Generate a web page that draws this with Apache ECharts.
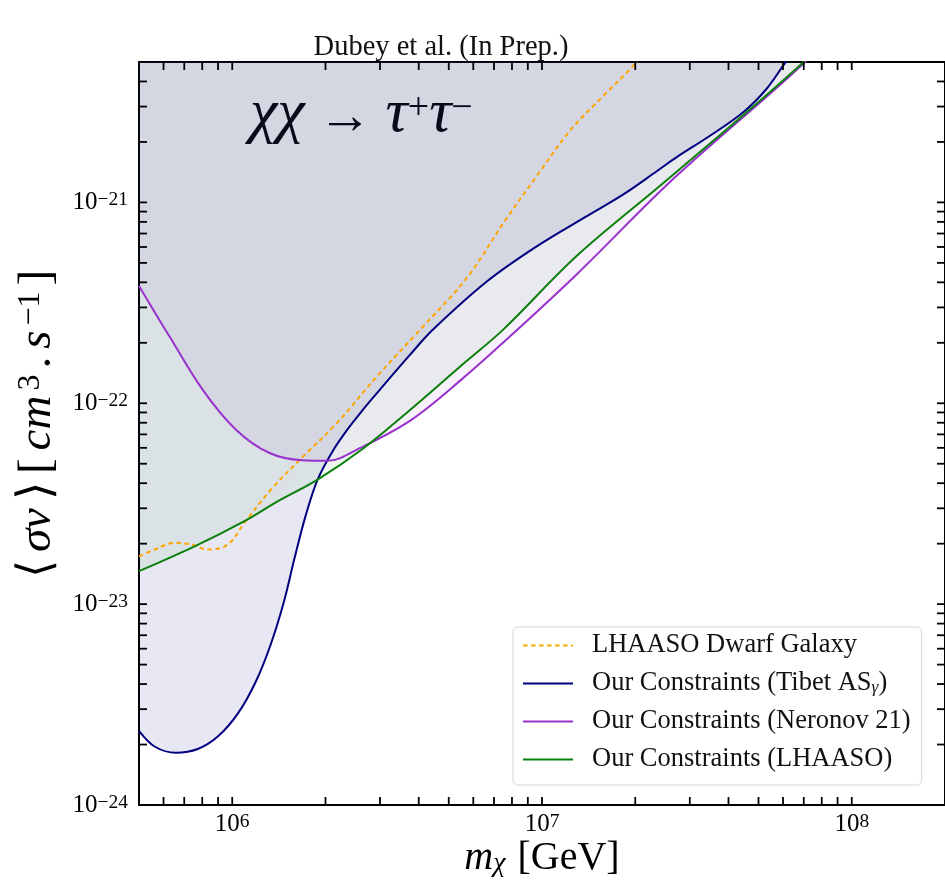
<!DOCTYPE html>
<html>
<head>
<meta charset="utf-8">
<script src="https://cdn.jsdelivr.net/npm/echarts@6/dist/echarts.min.js"></script>
<style>
  html, body { margin: 0; padding: 0; background: #ffffff; }
  #chart { width: 945px; height: 890px; }
</style>
</head>
<body>
<div id="chart"></div>
<script>
// Upper limits on the annihilation cross-section <σv> for χχ → τ+τ−,
// as a function of the dark-matter mass m_χ (GeV).

// LHAASO dwarf-galaxy limit (dashed)
const massDwarf  = [5.0e5, 5.62e5, 6.52e5, 7.37e5, 8.34e5, 9.67e5, 1.095e6, 1.334e6, 1.708e6, 2.187e6,
                    2.942e6, 4.057e6, 5.736e6, 7.53e6, 9.64e6, 1.233e7, 1.580e7, 1.950e7, 2.10e7];
const sigmaDwarf = [1.73e-23, 1.87e-23, 2.02e-23, 1.98e-23, 1.87e-23, 1.98e-23, 2.54e-23, 3.72e-23, 5.50e-23, 8.03e-23,
                    1.37e-22, 2.34e-22, 4.23e-22, 7.95e-22, 1.36e-21, 2.28e-21, 3.40e-21, 4.71e-21, 5.48e-21];

// Tibet ASγ constraint
const massTibet  = [5.0e5, 5.63e5, 6.58e5, 7.74e5, 8.98e5, 1.042e6, 1.191e6, 1.330e6, 1.466e6, 1.590e6,
                    1.725e6, 1.886e6, 2.107e6, 2.355e6, 2.632e6, 2.942e6, 3.757e6, 4.423e6, 6.65e6, 9.64e6,
                    1.396e7, 1.837e7, 2.347e7, 2.722e7, 3.476e7, 4.473e7, 5.304e7, 6.06e7, 6.63e7];
const sigmaTibet = [2.34e-24, 1.95e-24, 1.82e-24, 1.90e-24, 2.19e-24, 2.85e-24, 4.11e-24, 6.28e-24, 1.02e-23, 1.70e-23,
                    2.75e-23, 4.17e-23, 5.76e-23, 7.41e-23, 9.22e-23, 1.13e-22, 1.75e-22, 2.31e-22, 4.05e-22, 6.06e-22,
                    8.55e-22, 1.10e-21, 1.43e-21, 1.68e-21, 2.14e-21, 2.82e-21, 3.67e-21, 4.89e-21, 5.94e-21];

// Neronov 21 constraint
const massNeronov  = [5.0e5, 6.26e5, 8.02e5, 1.026e6, 1.314e6, 1.683e6, 2.03e6, 2.599e6, 3.766e6, 5.457e6,
                      7.906e6, 1.296e7, 2.656e7, 6.96e7, 7.80e7];
const sigmaNeronov = [3.84e-22, 2.16e-22, 1.17e-22, 7.41e-23, 5.67e-23, 5.20e-23, 5.17e-23, 6.01e-23, 8.22e-23, 1.30e-22,
                      2.16e-22, 4.39e-22, 1.31e-21, 4.89e-21, 6.15e-21];

// LHAASO constraint
const massLhaaso  = [5.0e5, 7.56e5, 1.095e6, 1.401e6, 1.886e6, 2.666e6, 3.766e6, 5.457e6, 7.526e6, 1.296e7,
                     2.559e7, 6.88e7, 7.69e7];
const sigmaLhaaso = [1.46e-23, 1.94e-23, 2.59e-23, 3.25e-23, 4.17e-23, 6.01e-23, 9.32e-23, 1.53e-22, 2.34e-22, 5.42e-22,
                     1.31e-21, 4.89e-21, 6.15e-21];

// Axis ranges and labelled decades
const massRange  = [5e5, 2e8];
const sigmaRange = [1e-24, 5e-21];
const massExponents  = [6, 7, 8];
const sigmaExponents = [-24, -23, -22, -21];

const SERIF = "'Liberation Serif', 'Times New Roman', serif";
const TICK_LEN = 8;
const SMOOTH = 0.35;

function pairs(xs, ys) { return xs.map((x, i) => [x, ys[i]]); }

// every 1..9 × 10^k strictly inside a range
function decadeTicks(lo, hi) {
  const out = [];
  for (let e = Math.floor(Math.log10(lo)); e <= Math.ceil(Math.log10(hi)); e++) {
    for (let k = 1; k < 10; k++) {
      const v = k * Math.pow(10, e);
      if (v > lo * 1.0001 && v < hi * 0.9999) out.push(v);
    }
  }
  return out;
}

const tickData = [
  ...decadeTicks(massRange[0], massRange[1]).map(v => [v, sigmaRange[0], 0]),
  ...decadeTicks(sigmaRange[0], sigmaRange[1]).map(v => [massRange[0], v, 1])
];
const labelData = [
  ...massExponents.map(e => [Math.pow(10, e), sigmaRange[0], 0, e]),
  ...sigmaExponents.map(e => [massRange[0], Math.pow(10, e), 1, e])
];

const curves = [
  { name: 'LHAASO Dwarf Galaxy',          m: massDwarf,   s: sigmaDwarf,   color: '#ffa500', dash: [4.5, 3.5], fill: null },
  { name: 'Our Constraints (Tibet ASγ)',  m: massTibet,   s: sigmaTibet,   color: '#000080', dash: 'solid', fill: 'rgba(0,0,128,0.09)' },
  { name: 'Our Constraints (Neronov 21)', m: massNeronov, s: sigmaNeronov, color: '#9932cc', dash: 'solid', fill: 'rgba(153,50,204,0.065)' },
  { name: 'Our Constraints (LHAASO)',     m: massLhaaso,  s: sigmaLhaaso,  color: '#0a800a', dash: 'solid', fill: 'rgba(0,128,0,0.06)' }
];

const series = [];
// excluded regions: shaded from each curve up to the top of the plot
curves.forEach(c => {
  if (!c.fill) return;
  series.push({
    type: 'line', name: 'shade ' + c.name, data: pairs(c.m, c.s),
    smooth: SMOOTH, symbol: 'none', silent: true, z: 1,
    lineStyle: { width: 0 },
    areaStyle: { origin: sigmaRange[1], color: c.fill, opacity: 1 }
  });
});
curves.forEach(c => {
  series.push({
    type: 'line', name: c.name, data: pairs(c.m, c.s),
    smooth: SMOOTH, symbol: 'none', showSymbol: false, z: 3,
    itemStyle: { color: c.color },
    lineStyle: { color: c.color, width: 2, type: c.dash }
  });
});

function seg(x1, y1, x2, y2) {
  return { type: 'line', shape: { x1, y1, x2, y2 }, style: { stroke: '#000', lineWidth: 1.8 } };
}

// inward ticks on all four sides
series.push({
  type: 'custom', name: 'ticks', silent: true, z: 10,
  dimensions: ['m', 's', 'side'], encode: { x: 0, y: 1 },
  data: tickData,
  renderItem: function (params, api) {
    const onY = api.value(2) === 1;
    if (onY) {
      const v = api.value(1);
      const a = api.coord([massRange[0], v]);
      const b = api.coord([massRange[1], v]);
      return { type: 'group', children: [seg(a[0], a[1], a[0] + TICK_LEN, a[1]), seg(b[0], b[1], b[0] - TICK_LEN, b[1])] };
    }
    const v = api.value(0);
    const a = api.coord([v, sigmaRange[0]]);
    const b = api.coord([v, sigmaRange[1]]);
    return { type: 'group', children: [seg(a[0], a[1], a[0], a[1] - TICK_LEN), seg(b[0], b[1], b[0], b[1] + TICK_LEN)] };
  }
});

const powRich = {
  b: { fontFamily: SERIF, fontSize: 25, lineHeight: 25, padding: [3, 0, 0, 0], verticalAlign: 'bottom', color: '#000' },
  s: { fontFamily: SERIF, fontSize: 19.5, lineHeight: 19, verticalAlign: 'top', color: '#000' }
};

// decade labels 10^n
series.push({
  type: 'custom', name: 'tick labels', silent: true, z: 10,
  dimensions: ['m', 's', 'side', 'exp'], encode: { x: 0, y: 1 },
  data: labelData,
  renderItem: function (params, api) {
    const onY = api.value(2) === 1;
    const e = api.value(3);
    const txt = '{b|10}{s|' + String(e).replace('-', '\u2212') + '}';
    const p = api.coord([api.value(0), api.value(1)]);
    if (onY) {
      return { type: 'text', x: p[0] - 11, y: p[1],
        style: { text: txt, rich: powRich, align: 'right', verticalAlign: 'middle' } };
    }
    return { type: 'text', x: p[0], y: p[1] + 7,
      style: { text: txt, rich: powRich, align: 'center', verticalAlign: 'top' } };
  }
});

const chart = echarts.init(document.getElementById('chart'), null, { renderer: 'canvas' });
chart.setOption({
  animation: false,
  backgroundColor: '#ffffff',
  grid: { left: 139, top: 62, right: -3, bottom: 85, show: true, borderColor: '#000', borderWidth: 2, backgroundColor: 'transparent' },
  xAxis: {
    type: 'log', logBase: 10, min: massRange[0], max: massRange[1],
    axisLine: { show: false }, axisTick: { show: false }, axisLabel: { show: false }, splitLine: { show: false }
  },
  yAxis: {
    type: 'log', logBase: 10, min: sigmaRange[0], max: sigmaRange[1],
    axisLine: { show: false }, axisTick: { show: false }, axisLabel: { show: false }, splitLine: { show: false }
  },
  legend: {
    data: curves.map(c => c.name),
    orient: 'vertical', left: 513, top: 627,
    itemWidth: 50, itemHeight: 14, itemGap: 11,
    padding: [5, 11, 12, 9],
    backgroundColor: 'rgba(255,255,255,0.85)', borderColor: '#d6d6d6', borderWidth: 1, borderRadius: 5,
    selectedMode: false,
    itemStyle: { opacity: 0 },
    formatter: function (name) {
      if (name === 'Our Constraints (Tibet ASγ)') return '{n|Our Constraints (Tibet AS}{sub|γ}{n|)}';
      return '{n|' + name + '}';
    },
    textStyle: {
      padding: [0, 0, 0, 14],
      rich: {
        n: { fontFamily: SERIF, fontSize: 26.5, lineHeight: 26, color: '#111' },
        sub: { fontFamily: SERIF, fontSize: 17.5, fontStyle: 'italic', lineHeight: 12, verticalAlign: 'bottom', color: '#111' }
      }
    }
  },
  graphic: [
    { type: 'text', x: 441, y: 48, silent: true,
      style: { text: 'Dubey et al. (In Prep.)', fontFamily: SERIF, fontSize: 28.5, fill: '#111', align: 'center', verticalAlign: 'middle' } },
    { type: 'text', x: 250, y: 118, silent: true,
      style: {
        text: '{g|χχ}{a| → }{g|τ}{p|+}{g|τ}{p|−}',
        align: 'left', verticalAlign: 'middle',
        rich: {
          g: { fontFamily: SERIF, fontSize: 62, fontStyle: 'italic', lineHeight: 56, padding: [10, 0, 0, 0], verticalAlign: 'bottom', color: '#111' },
          a: { fontFamily: SERIF, fontSize: 54, lineHeight: 54, padding: [10, 0, 0, 0], verticalAlign: 'bottom', color: '#111' },
          p: { fontFamily: SERIF, fontSize: 38, lineHeight: 36, verticalAlign: 'top', color: '#111' }
        }
      } },
    { type: 'text', x: 542, y: 858, silent: true,
      style: {
        text: '{i|m}{u|χ}{n| [GeV]}',
        align: 'center', verticalAlign: 'middle',
        rich: {
          i: { fontFamily: SERIF, fontSize: 40, fontStyle: 'italic', lineHeight: 40, verticalAlign: 'top', color: '#111' },
          u: { fontFamily: SERIF, fontSize: 28, fontStyle: 'italic', lineHeight: 28, padding: [20, 2, 0, 0], verticalAlign: 'bottom', color: '#111' },
          n: { fontFamily: SERIF, fontSize: 40, lineHeight: 40, verticalAlign: 'top', color: '#111' }
        }
      } },
    { type: 'text', x: 38, y: 424, rotation: Math.PI / 2, silent: true,
      style: {
        text: '{a|⟨}{i|σv}{a|⟩}{a|[}{i|cm}{p|3}{a|.}{i|s}{p|−1}{a|]}',
        align: 'center', verticalAlign: 'middle',
        rich: {
          a: { fontFamily: SERIF, fontSize: 47, lineHeight: 46, padding: [10, 4, 0, 4], verticalAlign: 'bottom', color: '#111' },
          i: { fontFamily: SERIF, fontSize: 47, fontStyle: 'italic', lineHeight: 46, padding: [10, 4, 0, 4], verticalAlign: 'bottom', color: '#111' },
          p: { fontFamily: SERIF, fontSize: 32, lineHeight: 30, padding: [0, 2, 0, 1], verticalAlign: 'top', color: '#111' }
        }
      } }
  ],
  series: series
});
</script>
</body>
</html>
